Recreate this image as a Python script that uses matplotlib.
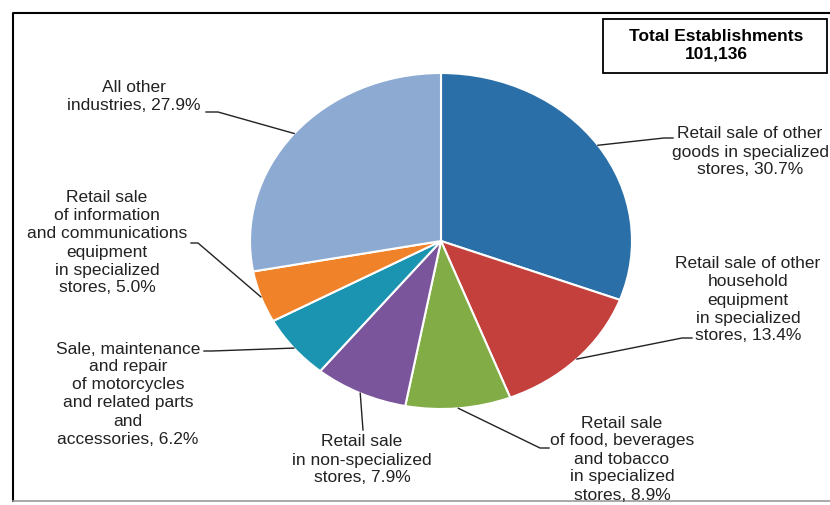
import numpy as np
import matplotlib.pyplot as plt
from matplotlib.patches import Rectangle

plt.rcParams['font.family'] = ['Liberation Sans', 'DejaVu Sans']

# data (clockwise from 12 o'clock)
categories = [
    "Retail sale of other\ngoods in specialized\nstores",
    "Retail sale of other\nhousehold\nequipment\nin specialized\nstores",
    "Retail sale\nof food, beverages\nand tobacco\nin specialized\nstores",
    "Retail sale\nin non-specialized\nstores",
    "Sale, maintenance\nand repair\nof motorcycles\nand related parts\nand\naccessories",
    "Retail sale\nof information\nand communications\nequipment\nin specialized\nstores",
    "All other\nindustries",
]
shares = [30.7, 13.4, 8.9, 7.9, 6.2, 5.0, 27.9]
colors = ['#2a6fa8', '#c4403c', '#82ac45', '#7b559c', '#1a94b0', '#f0822a', '#8daad3']
total_title = "Total Establishments"
total_value = "101,136"

W, H = 830, 505
CX, CY = 441, 241   # pie centre in px
RX, RY = 191, 168   # the original is stretched sideways


def P(x, y):
    # pixel position -> data coords of the pie axes
    return (x - CX) / RX, (CY - y) / RY


# label block centres and leader line (elbow, end) in px
label_pos = [(750, 152), (748, 300), (622, 459), (362, 460), (128, 394), (107, 243), (134, 96)]
leader_pts = [
    [(664, 138), (673, 138)],
    [(682, 338), (692, 338)],
    [(540, 448), (549, 448)],
    [(363, 430)],
    [(212, 351), (204, 351)],
    [(198, 243), (191, 243)],
    [(218, 112), (206, 112)],
]

fig = plt.figure(figsize=(W / 100, H / 100), dpi=100)
ax = fig.add_axes([0, 0, 1, 1])
wedges, _ = ax.pie(shares, colors=colors, startangle=90, counterclock=False,
                   wedgeprops=dict(edgecolor='white', linewidth=1.5))
ax.set_aspect('auto')
x0, y1 = P(0, 0)
x1, y0 = P(W, H)
ax.set_xlim(x0, x1)
ax.set_ylim(y0, y1)
ax.axis('off')

# labels + leader lines
for w, cat, val, pos, pts in zip(wedges, categories, shares, label_pos, leader_pts):
    ang = np.deg2rad((w.theta1 + w.theta2) / 2)
    start = (np.cos(ang) * w.r, np.sin(ang) * w.r)
    line = [start] + [P(*p) for p in pts]
    xs, ys = zip(*line)
    ax.plot(xs, ys, color='#222222', lw=1.0, clip_on=False, zorder=3)
    ax.text(*P(*pos), f"{cat}, {val:.1f}%", ha='center', va='center',
            multialignment='center', fontsize=12.5, color='#222222',
            linespacing=1.25)

# total box
bx, by = P(603, 73)
ax.add_patch(Rectangle((bx, by), (827 - 603) / RX, (73 - 19) / RY,
                       facecolor='white', edgecolor='black', lw=1.3, clip_on=False))
ax.text(*P(716, 45), f"{total_title}\n{total_value}", ha='center', va='center',
        fontsize=12.5, fontweight='bold', linespacing=1.2)

# outer frame (left/top black, bottom grey)
ax.plot(*zip(P(13, 501), P(13, 13), P(830, 13)), color='black', lw=1.5, clip_on=False)
ax.plot(*zip(P(13, 501), P(830, 501)), color='#999999', lw=1.2, clip_on=False)

fig.savefig('out.png', dpi=100, facecolor='white')
